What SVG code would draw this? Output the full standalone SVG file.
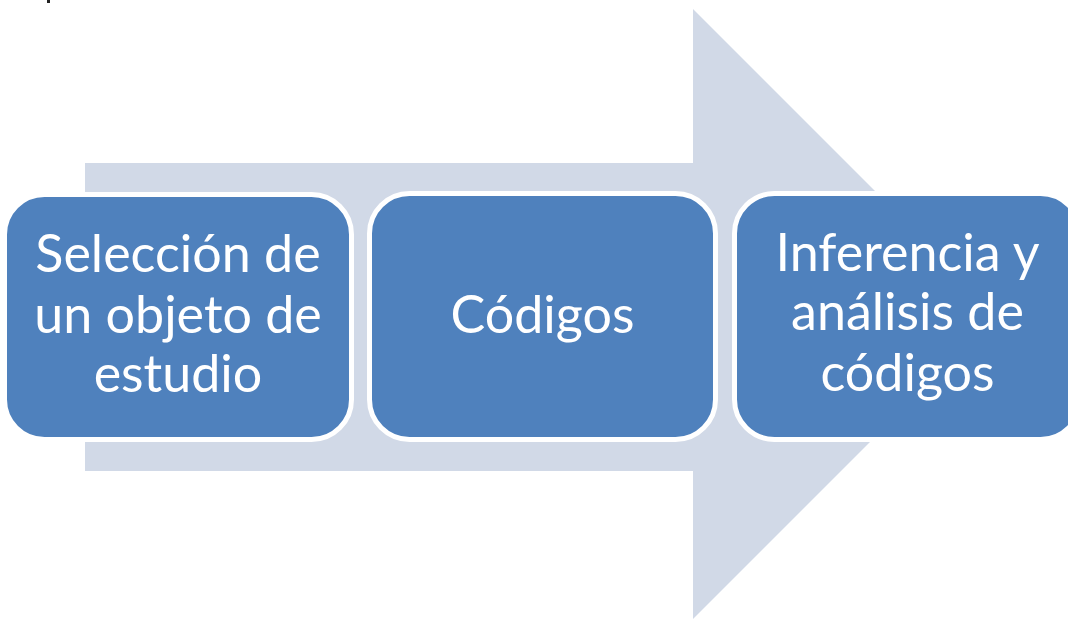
<svg xmlns="http://www.w3.org/2000/svg" width="1068" height="619" viewBox="0 0 1068 619">
<style>
.box{fill:#4F81BD;stroke:#FFFFFF;stroke-width:5}
.lbl{fill:#FFFFFF;font-family:Lato,"Open Sans","Liberation Sans",sans-serif;font-size:52px;text-anchor:middle}
</style>
<rect x="47" y="0" width="3" height="3" fill="#222"/>
<g id="arrow">
<polygon points="85,163 693,163 693,9 998,314 693,619 693,471 85,471" fill="#D1D9E7"/>
</g>
<g id="connectors"></g>
<g id="node1">
<rect class="box" x="4.5" y="194.5" width="347" height="245" rx="40"/>
<text class="lbl" x="178" y="272">Selección de</text>
<text class="lbl" x="178" y="333">un objeto de</text>
<text class="lbl" x="178" y="392">estudio</text>
</g>
<g id="node2">
<rect class="box" x="369.5" y="193.5" width="346" height="246" rx="40"/>
<text class="lbl" x="542.5" y="333">Códigos</text>
</g>
<g id="node3">
<rect class="box" x="734.5" y="193.5" width="346" height="246" rx="40"/>
<text class="lbl" x="907.5" y="271">Inferencia y</text>
<text class="lbl" x="907.5" y="330">análisis de</text>
<text class="lbl" x="907.5" y="391">códigos</text>
</g>
</svg>
